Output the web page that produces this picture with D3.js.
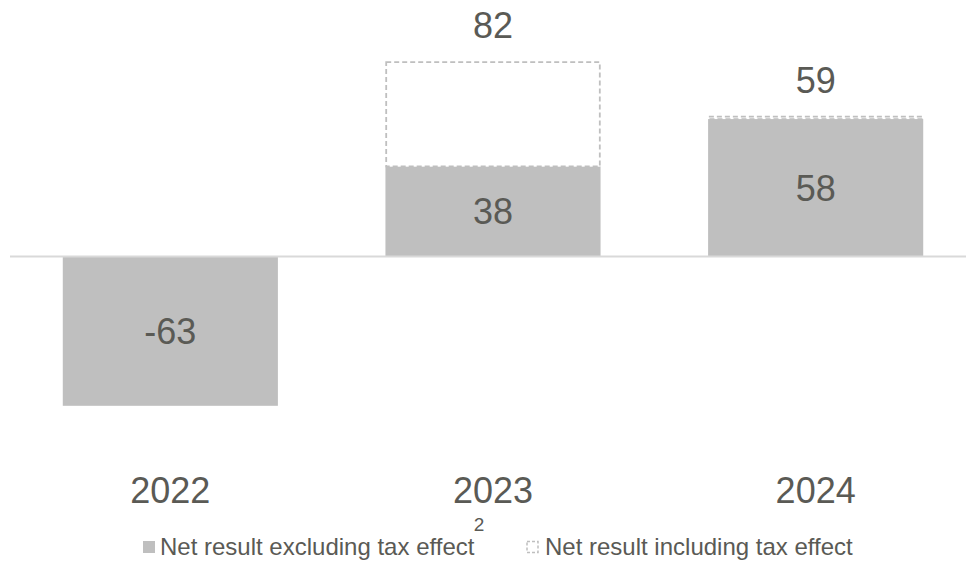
<!DOCTYPE html>
<html>
<head>
<meta charset="utf-8">
<script src="https://cdn.jsdelivr.net/npm/d3@7"></script>
<style>
  html, body { margin: 0; padding: 0; background: #ffffff; }
  svg { display: block; font-family: "Liberation Sans", Arial, sans-serif; }
</style>
</head>
<body>
<svg id="chart" width="966" height="562"></svg>
<script>
// Net result per year (EUR m)
const years = ["2022", "2023", "2024"];
const netExclTax = [-63, 38, 58];
const netInclTax = [null, 82, 59];
const legendLabels = ["Net result excluding tax effect", "Net result including tax effect"];
const footnoteMark = "2";

const W = 966, H = 562;
const textColor = "#5a5a55";
const barColor = "#bfbfbf";

const svg = d3.select("#chart");

const x = d3.scaleBand()
  .domain(years)
  .range([9, 977])
  .paddingInner(1 / 3)
  .paddingOuter(1 / 6);

const y = d3.scaleLinear()
  .domain([-80, 90])
  .range([256.5 + 80 * 2.37, 256.5 - 90 * 2.37]);

const rows = years.map((yr, i) => ({ yr, excl: netExclTax[i], incl: netInclTax[i] }));

// solid bars: result excluding tax effect
svg.append("g").selectAll("rect")
  .data(rows)
  .join("rect")
  .attr("x", d => x(d.yr))
  .attr("width", x.bandwidth())
  .attr("y", d => y(Math.max(0, d.excl)))
  .attr("height", d => Math.abs(y(d.excl) - y(0)))
  .attr("fill", barColor);

// dashed outline: extra amount from the tax effect
const withTax = rows.filter(d => d.incl !== null);
svg.append("g").selectAll("rect")
  .data(withTax)
  .join("rect")
  .attr("x", d => x(d.yr) + 0.75)
  .attr("width", x.bandwidth() - 1.5)
  .attr("y", d => y(d.incl))
  .attr("height", d => y(d.excl) - y(d.incl))
  .attr("fill", "#ffffff")
  .attr("stroke", barColor)
  .attr("stroke-width", 1.8)
  .attr("stroke-dasharray", "5,3");

// zero line
svg.append("line")
  .attr("x1", 10).attr("x2", W)
  .attr("y1", y(0)).attr("y2", y(0))
  .attr("stroke", "#d9d9d9")
  .attr("stroke-width", 2);

// value labels inside the solid bars
svg.append("g").selectAll("text")
  .data(rows)
  .join("text")
  .attr("x", d => x(d.yr) + x.bandwidth() / 2)
  .attr("y", d => (y(d.excl) + y(0)) / 2)
  .attr("dy", "0.36em")
  .attr("text-anchor", "middle")
  .attr("font-size", 36)
  .attr("fill", textColor)
  .text(d => d.excl);

// labels above the dashed outlines
svg.append("g").selectAll("text")
  .data(withTax)
  .join("text")
  .attr("x", d => x(d.yr) + x.bandwidth() / 2)
  .attr("y", d => y(d.incl) - 24)
  .attr("text-anchor", "middle")
  .attr("font-size", 36)
  .attr("fill", textColor)
  .text(d => d.incl);

// category axis
const xAxis = svg.append("g")
  .attr("transform", "translate(0,503)")
  .call(d3.axisBottom(x).tickSize(0).tickPadding(0));
xAxis.select(".domain").remove();
xAxis.selectAll("text")
  .attr("dy", 0)
  .attr("y", 0)
  .attr("font-size", 36)
  .attr("font-family", "\"Liberation Sans\", Arial, sans-serif")
  .attr("fill", textColor);

// legend
const legend = svg.append("g").attr("font-size", 24).attr("fill", textColor);
legend.append("rect")
  .attr("x", 143).attr("y", 541).attr("width", 12).attr("height", 12)
  .attr("fill", barColor);
legend.append("text")
  .attr("x", 160).attr("y", 555)
  .text(legendLabels[0]);
legend.append("text")
  .attr("x", 479).attr("y", 531)
  .attr("text-anchor", "middle")
  .attr("font-size", 19)
  .text(footnoteMark);
legend.append("rect")
  .attr("x", 527).attr("y", 541.5).attr("width", 11).attr("height", 11)
  .attr("fill", "none")
  .attr("stroke", barColor)
  .attr("stroke-width", 1.5)
  .attr("stroke-dasharray", "3,2");
legend.append("text")
  .attr("x", 545).attr("y", 555)
  .text(legendLabels[1]);
</script>
</body>
</html>
